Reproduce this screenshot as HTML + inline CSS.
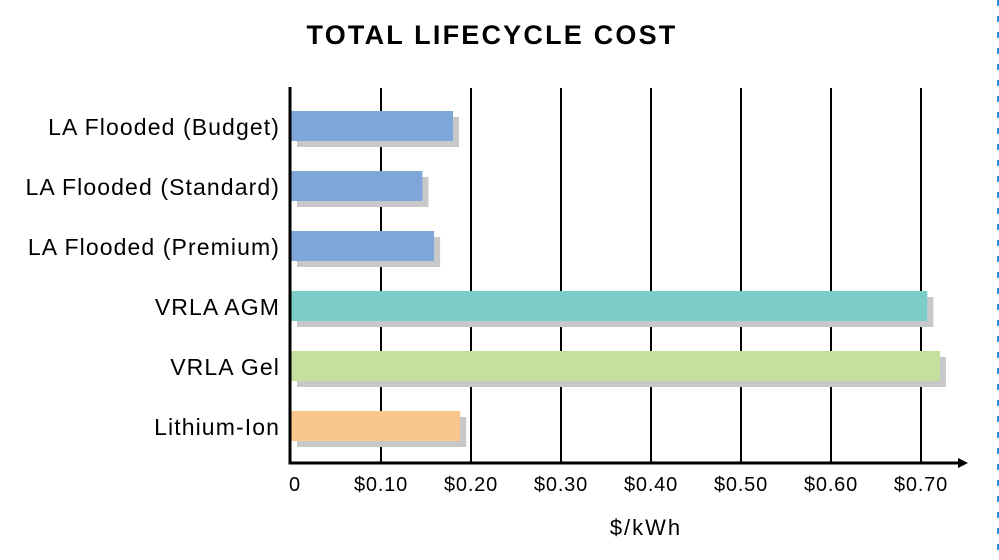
<!DOCTYPE html>
<html><head><meta charset="utf-8"><style>
body{margin:0;background:#fff;width:999px;height:555px;overflow:hidden;font-family:"Liberation Sans",sans-serif}
</style></head><body>
<svg id="c" width="999" height="555">
<text x="492" y="44" text-anchor="middle" font-size="27" font-weight="bold" letter-spacing="2.2">TOTAL LIFECYCLE COST</text>
<line x1="998" y1="0" x2="998" y2="555" stroke="#2a8de0" stroke-width="2" stroke-dasharray="6,10"/>
<g id="g"></g>
<text x="646" y="535" text-anchor="middle" font-size="22" letter-spacing="2">$/kWh</text>
</svg>
<script>
const categories=["LA Flooded (Budget)","LA Flooded (Standard)","LA Flooded (Premium)","VRLA AGM","VRLA Gel","Lithium-Ion"];
const values=[0.18,0.146,0.159,0.707,0.721,0.188];
const colors=["#7ea7d8","#7ea7d8","#7ea7d8","#7ccdc8","#c5e09e","#f9c68b"];
const ticks=[0,0.1,0.2,0.3,0.4,0.5,0.6,0.7];
const tickLabels=["0","$0.10","$0.20","$0.30","$0.40","$0.50","$0.60","$0.70"];
const NS="http://www.w3.org/2000/svg",g=document.getElementById('g');
const x=v=>291+v*900, y=i=>111+i*60;
function mk(t,a){const e=document.createElementNS(NS,t);for(const k in a)e.setAttribute(k,a[k]);g.appendChild(e);return e;}
ticks.forEach((t,i)=>{
 if(i>0){const l=mk('line',{x1:x(t),y1:88,x2:x(t),y2:462,stroke:'#000','stroke-width':2});
 
 }
 const tx=mk('text',{x:i==0?295:x(t),y:491,'text-anchor':'middle','font-size':20,'letter-spacing':0.8});tx.textContent=tickLabels[i];
 
 
});
categories.forEach((c,i)=>{
 const s=mk('rect',{x:x(0)+6,y:y(i)+6,width:x(values[i])-x(0),height:30,fill:'#c8c8ca'});
 
 
 const b=mk('rect',{x:x(0),y:y(i),width:x(values[i])-x(0),height:30,fill:colors[i]});
 
 
 const t=mk('text',{x:280,y:y(i)+24,'text-anchor':'end','font-size':23,'letter-spacing':1.1});t.textContent=c;
 
 
});
const ya=mk('line',{x1:290,y1:87,x2:290,y2:464,stroke:'#000','stroke-width':3});


const xa=mk('line',{x1:288.5,y1:463,x2:962,y2:463,stroke:'#000','stroke-width':3});


const ar=mk('polygon',{points:'958,458 968,463 958,468',fill:'#000'});


</script>
</body></html>
